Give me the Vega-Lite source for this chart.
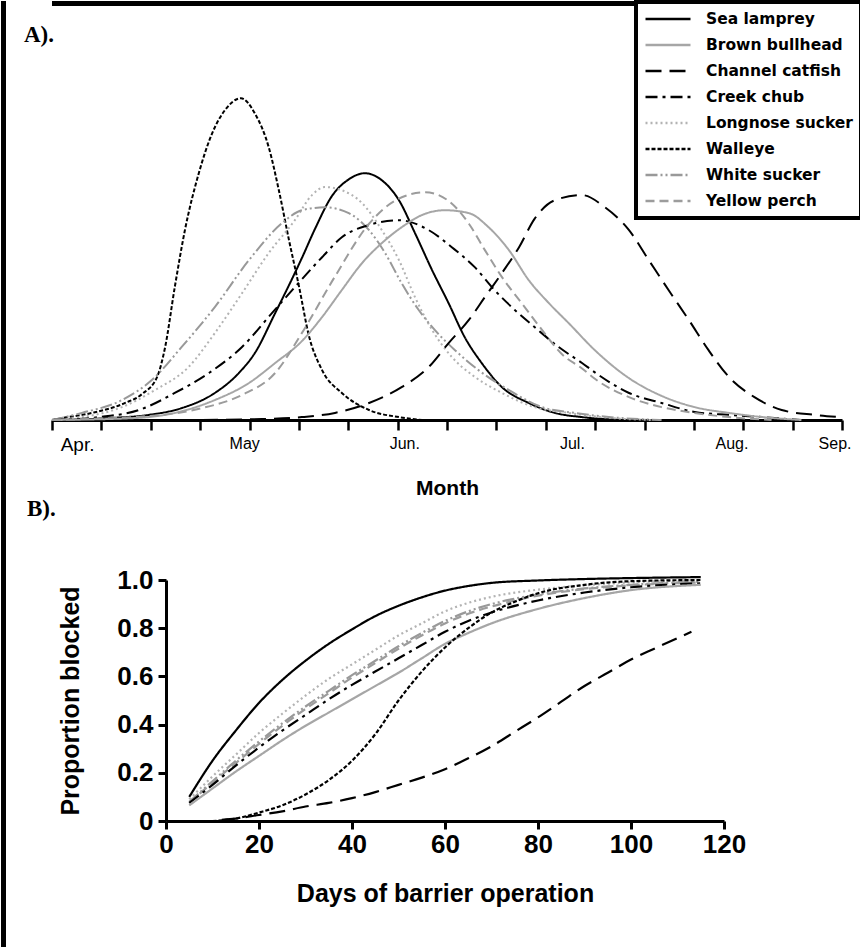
{
  "$schema": "https://vega.github.io/schema/vega-lite/v6.json",
  "background": "white",
  "padding": {"left": 0, "top": 0, "right": 0, "bottom": 0},
  "config": {"view": {"stroke": null}, "font": "Liberation Sans", "legend": {"strokeWidth": 4, "cornerRadius": 0}},
  "datasets": {
    "curvesA": [
      {"species":"Walleye","day":0,"density":0},{"species":"Walleye","day":1.9,"density":0.006},{"species":"Walleye","day":7.5,"density":0.022},{"species":"Walleye","day":13.7,"density":0.053},{"species":"Walleye","day":16.9,"density":0.081},{"species":"Walleye","day":19.7,"density":0.134},{"species":"Walleye","day":21.2,"density":0.227},{"species":"Walleye","day":23.0,"density":0.413},{"species":"Walleye","day":24.9,"density":0.59},{"species":"Walleye","day":27.5,"density":0.767},{"species":"Walleye","day":30.0,"density":0.891},{"species":"Walleye","day":32.4,"density":0.963},{"species":"Walleye","day":35.4,"density":1.0},{"species":"Walleye","day":38.0,"density":0.953},{"species":"Walleye","day":40.6,"density":0.848},{"species":"Walleye","day":42.5,"density":0.714},{"species":"Walleye","day":44.4,"density":0.559},{"species":"Walleye","day":46.3,"density":0.413},{"species":"Walleye","day":48.1,"density":0.264},{"species":"Walleye","day":50.6,"density":0.155},{"species":"Walleye","day":54.3,"density":0.084},{"species":"Walleye","day":59.4,"density":0.031},{"species":"Walleye","day":65.0,"density":0.009},{"species":"Walleye","day":69.3,"density":0},
      {"species":"Sea lamprey","day":0,"density":0},{"species":"Sea lamprey","day":10.7,"density":0.006},{"species":"Sea lamprey","day":18.2,"density":0.016},{"species":"Sea lamprey","day":24.3,"density":0.037},{"species":"Sea lamprey","day":30.5,"density":0.084},{"species":"Sea lamprey","day":35.0,"density":0.146},{"species":"Sea lamprey","day":38.0,"density":0.208},{"species":"Sea lamprey","day":41.8,"density":0.332},{"species":"Sea lamprey","day":45.5,"density":0.457},{"species":"Sea lamprey","day":46.8,"density":0.503},{"species":"Sea lamprey","day":49.3,"density":0.595},{"species":"Sea lamprey","day":52.4,"density":0.695},{"species":"Sea lamprey","day":55.6,"density":0.748},{"species":"Sea lamprey","day":58.6,"density":0.767},{"species":"Sea lamprey","day":61.8,"density":0.745},{"species":"Sea lamprey","day":65.0,"density":0.683},{"species":"Sea lamprey","day":68.0,"density":0.581},{"species":"Sea lamprey","day":71.2,"density":0.466},{"species":"Sea lamprey","day":74.3,"density":0.363},{"species":"Sea lamprey","day":77.3,"density":0.258},{"species":"Sea lamprey","day":80.5,"density":0.177},{"species":"Sea lamprey","day":84.3,"density":0.102},{"species":"Sea lamprey","day":89.3,"density":0.053},{"species":"Sea lamprey","day":94.2,"density":0.022},{"species":"Sea lamprey","day":99.3,"density":0.009},{"species":"Sea lamprey","day":106.7,"density":0},
      {"species":"Longnose sucker","day":0,"density":0},{"species":"Longnose sucker","day":5.6,"density":0.009},{"species":"Longnose sucker","day":13.1,"density":0.04},{"species":"Longnose sucker","day":19.3,"density":0.093},{"species":"Longnose sucker","day":25.6,"density":0.165},{"species":"Longnose sucker","day":30.5,"density":0.27},{"species":"Longnose sucker","day":35.6,"density":0.394},{"species":"Longnose sucker","day":40.6,"density":0.519},{"species":"Longnose sucker","day":45.5,"density":0.621},{"species":"Longnose sucker","day":48.7,"density":0.699},{"species":"Longnose sucker","day":51.1,"density":0.724},{"species":"Longnose sucker","day":54.3,"density":0.714},{"species":"Longnose sucker","day":58.1,"density":0.674},{"species":"Longnose sucker","day":61.8,"density":0.59},{"species":"Longnose sucker","day":65.0,"density":0.497},{"species":"Longnose sucker","day":68.0,"density":0.382},{"species":"Longnose sucker","day":71.2,"density":0.28},{"species":"Longnose sucker","day":74.9,"density":0.196},{"species":"Longnose sucker","day":79.2,"density":0.134},{"species":"Longnose sucker","day":84.3,"density":0.084},{"species":"Longnose sucker","day":90.4,"density":0.04},{"species":"Longnose sucker","day":96.8,"density":0.022},{"species":"Longnose sucker","day":104.9,"density":0.006},{"species":"Longnose sucker","day":112.4,"density":0},
      {"species":"White sucker","day":0,"density":0},{"species":"White sucker","day":5.6,"density":0.022},{"species":"White sucker","day":13.1,"density":0.062},{"species":"White sucker","day":18.7,"density":0.124},{"species":"White sucker","day":24.3,"density":0.227},{"species":"White sucker","day":30.5,"density":0.351},{"species":"White sucker","day":36.9,"density":0.497},{"species":"White sucker","day":43.1,"density":0.612},{"species":"White sucker","day":46.8,"density":0.652},{"species":"White sucker","day":51.1,"density":0.661},{"species":"White sucker","day":55.6,"density":0.643},{"species":"White sucker","day":59.4,"density":0.59},{"species":"White sucker","day":62.4,"density":0.519},{"species":"White sucker","day":65.5,"density":0.425},{"species":"White sucker","day":68.7,"density":0.342},{"species":"White sucker","day":71.7,"density":0.28},{"species":"White sucker","day":75.5,"density":0.217},{"species":"White sucker","day":79.9,"density":0.155},{"species":"White sucker","day":85.6,"density":0.093},{"species":"White sucker","day":91.8,"density":0.04},{"species":"White sucker","day":97.9,"density":0.022},{"species":"White sucker","day":106.7,"density":0.006},{"species":"White sucker","day":114.2,"density":0},
      {"species":"Creek chub","day":0,"density":0},{"species":"Creek chub","day":8.8,"density":0.009},{"species":"Creek chub","day":16.3,"density":0.031},{"species":"Creek chub","day":23.0,"density":0.084},{"species":"Creek chub","day":29.4,"density":0.146},{"species":"Creek chub","day":35.6,"density":0.227},{"species":"Creek chub","day":41.2,"density":0.332},{"species":"Creek chub","day":45.5,"density":0.413},{"species":"Creek chub","day":50.6,"density":0.506},{"species":"Creek chub","day":54.3,"density":0.568},{"species":"Creek chub","day":59.4,"density":0.606},{"species":"Creek chub","day":65.0,"density":0.621},{"species":"Creek chub","day":70.6,"density":0.59},{"species":"Creek chub","day":74.9,"density":0.537},{"species":"Creek chub","day":79.2,"density":0.475},{"species":"Creek chub","day":82.9,"density":0.404},{"species":"Creek chub","day":86.7,"density":0.342},{"species":"Creek chub","day":90.4,"density":0.289},{"species":"Creek chub","day":94.9,"density":0.227},{"species":"Creek chub","day":99.3,"density":0.177},{"species":"Creek chub","day":101.7,"density":0.148},{"species":"Creek chub","day":108.1,"density":0.084},{"species":"Creek chub","day":114.2,"density":0.053},{"species":"Creek chub","day":120.4,"density":0.025},{"species":"Creek chub","day":126.8,"density":0.016},{"species":"Creek chub","day":133.1,"density":0.009},{"species":"Creek chub","day":140.4,"density":0},
      {"species":"Brown bullhead","day":0,"density":0},{"species":"Brown bullhead","day":15.5,"density":0.006},{"species":"Brown bullhead","day":23.0,"density":0.022},{"species":"Brown bullhead","day":30.5,"density":0.062},{"species":"Brown bullhead","day":36.9,"density":0.115},{"species":"Brown bullhead","day":41.8,"density":0.177},{"species":"Brown bullhead","day":46.8,"density":0.245},{"species":"Brown bullhead","day":50.6,"density":0.32},{"species":"Brown bullhead","day":54.3,"density":0.404},{"species":"Brown bullhead","day":58.1,"density":0.488},{"species":"Brown bullhead","day":61.8,"density":0.55},{"species":"Brown bullhead","day":65.5,"density":0.599},{"species":"Brown bullhead","day":69.3,"density":0.637},{"species":"Brown bullhead","day":73.6,"density":0.652},{"species":"Brown bullhead","day":78.1,"density":0.643},{"species":"Brown bullhead","day":81.8,"density":0.599},{"species":"Brown bullhead","day":85.6,"density":0.528},{"species":"Brown bullhead","day":89.3,"density":0.435},{"species":"Brown bullhead","day":93.1,"density":0.363},{"species":"Brown bullhead","day":96.8,"density":0.301},{"species":"Brown bullhead","day":101.7,"density":0.217},{"species":"Brown bullhead","day":108.1,"density":0.13},{"species":"Brown bullhead","day":114.2,"density":0.075},{"species":"Brown bullhead","day":120.4,"density":0.04},{"species":"Brown bullhead","day":126.8,"density":0.022},{"species":"Brown bullhead","day":133.1,"density":0.009},{"species":"Brown bullhead","day":140.4,"density":0},
      {"species":"Yellow perch","day":0,"density":0},{"species":"Yellow perch","day":20.6,"density":0.016},{"species":"Yellow perch","day":28.1,"density":0.037},{"species":"Yellow perch","day":35.6,"density":0.078},{"species":"Yellow perch","day":41.8,"density":0.146},{"species":"Yellow perch","day":46.8,"density":0.27},{"species":"Yellow perch","day":52.9,"density":0.443},{"species":"Yellow perch","day":59.4,"density":0.61},{"species":"Yellow perch","day":64.2,"density":0.681},{"species":"Yellow perch","day":69.9,"density":0.708},{"species":"Yellow perch","day":74.3,"density":0.681},{"species":"Yellow perch","day":78.1,"density":0.61},{"species":"Yellow perch","day":81.1,"density":0.528},{"species":"Yellow perch","day":84.3,"density":0.444},{"species":"Yellow perch","day":88.0,"density":0.363},{"species":"Yellow perch","day":91.8,"density":0.28},{"species":"Yellow perch","day":95.5,"density":0.205},{"species":"Yellow perch","day":99.3,"density":0.16},{"species":"Yellow perch","day":101.7,"density":0.128},{"species":"Yellow perch","day":108.1,"density":0.071},{"species":"Yellow perch","day":114.2,"density":0.04},{"species":"Yellow perch","day":120.4,"density":0.022},{"species":"Yellow perch","day":126.8,"density":0.009},{"species":"Yellow perch","day":134.8,"density":0},
      {"species":"Channel catfish","day":28.1,"density":0},{"species":"Channel catfish","day":39.3,"density":0.003},{"species":"Channel catfish","day":46.8,"density":0.009},{"species":"Channel catfish","day":53.0,"density":0.022},{"species":"Channel catfish","day":59.4,"density":0.053},{"species":"Channel catfish","day":65.5,"density":0.102},{"species":"Channel catfish","day":70.6,"density":0.165},{"species":"Channel catfish","day":74.3,"density":0.239},{"species":"Channel catfish","day":78.1,"density":0.311},{"species":"Channel catfish","day":81.1,"density":0.382},{"species":"Channel catfish","day":84.3,"density":0.457},{"species":"Channel catfish","day":87.5,"density":0.537},{"species":"Channel catfish","day":90.4,"density":0.625},{"species":"Channel catfish","day":94.2,"density":0.683},{"species":"Channel catfish","day":99.3,"density":0.699},{"species":"Channel catfish","day":103.6,"density":0.661},{"species":"Channel catfish","day":108.1,"density":0.59},{"species":"Channel catfish","day":111.8,"density":0.497},{"species":"Channel catfish","day":115.5,"density":0.404},{"species":"Channel catfish","day":119.3,"density":0.311},{"species":"Channel catfish","day":123.0,"density":0.217},{"species":"Channel catfish","day":126.8,"density":0.134},{"species":"Channel catfish","day":131.6,"density":0.071},{"species":"Channel catfish","day":136.7,"density":0.031},{"species":"Channel catfish","day":142.9,"density":0.016},{"species":"Channel catfish","day":147.4,"density":0.009}
    ],
    "months": [
      {"month":"Apr.","day":4.7},{"month":"May","day":36},{"month":"Jun.","day":66},{"month":"Jul.","day":97.4},{"month":"Aug.","day":127.3},{"month":"Sep.","day":146.6}
    ],
    "curvesB": [
      {"species":"Sea lamprey","days":5,"prop":0.1},{"species":"Sea lamprey","days":10,"prop":0.25},{"species":"Sea lamprey","days":15,"prop":0.375},{"species":"Sea lamprey","days":20,"prop":0.49},{"species":"Sea lamprey","days":25,"prop":0.585},{"species":"Sea lamprey","days":30,"prop":0.665},{"species":"Sea lamprey","days":35,"prop":0.735},{"species":"Sea lamprey","days":40,"prop":0.795},{"species":"Sea lamprey","days":45,"prop":0.85},{"species":"Sea lamprey","days":50,"prop":0.893},{"species":"Sea lamprey","days":55,"prop":0.928},{"species":"Sea lamprey","days":60,"prop":0.956},{"species":"Sea lamprey","days":65,"prop":0.975},{"species":"Sea lamprey","days":70,"prop":0.988},{"species":"Sea lamprey","days":80,"prop":0.998},{"species":"Sea lamprey","days":90,"prop":1.004},{"species":"Sea lamprey","days":100,"prop":1.008},{"species":"Sea lamprey","days":115,"prop":1.012},
      {"species":"Longnose sucker","days":5,"prop":0.09},{"species":"Longnose sucker","days":10,"prop":0.185},{"species":"Longnose sucker","days":15,"prop":0.275},{"species":"Longnose sucker","days":20,"prop":0.365},{"species":"Longnose sucker","days":25,"prop":0.445},{"species":"Longnose sucker","days":30,"prop":0.52},{"species":"Longnose sucker","days":35,"prop":0.59},{"species":"Longnose sucker","days":40,"prop":0.65},{"species":"Longnose sucker","days":45,"prop":0.71},{"species":"Longnose sucker","days":50,"prop":0.77},{"species":"Longnose sucker","days":55,"prop":0.82},{"species":"Longnose sucker","days":60,"prop":0.87},{"species":"Longnose sucker","days":65,"prop":0.905},{"species":"Longnose sucker","days":70,"prop":0.93},{"species":"Longnose sucker","days":80,"prop":0.96},{"species":"Longnose sucker","days":90,"prop":0.978},{"species":"Longnose sucker","days":100,"prop":0.99},{"species":"Longnose sucker","days":115,"prop":1.0},
      {"species":"White sucker","days":5,"prop":0.08},{"species":"White sucker","days":10,"prop":0.165},{"species":"White sucker","days":15,"prop":0.25},{"species":"White sucker","days":20,"prop":0.33},{"species":"White sucker","days":25,"prop":0.405},{"species":"White sucker","days":30,"prop":0.475},{"species":"White sucker","days":35,"prop":0.54},{"species":"White sucker","days":40,"prop":0.605},{"species":"White sucker","days":45,"prop":0.665},{"species":"White sucker","days":50,"prop":0.725},{"species":"White sucker","days":55,"prop":0.78},{"species":"White sucker","days":60,"prop":0.83},{"species":"White sucker","days":65,"prop":0.87},{"species":"White sucker","days":70,"prop":0.9},{"species":"White sucker","days":80,"prop":0.94},{"species":"White sucker","days":90,"prop":0.965},{"species":"White sucker","days":100,"prop":0.98},{"species":"White sucker","days":115,"prop":0.993},
      {"species":"Yellow perch","days":5,"prop":0.075},{"species":"Yellow perch","days":10,"prop":0.16},{"species":"Yellow perch","days":15,"prop":0.24},{"species":"Yellow perch","days":20,"prop":0.32},{"species":"Yellow perch","days":25,"prop":0.395},{"species":"Yellow perch","days":30,"prop":0.465},{"species":"Yellow perch","days":35,"prop":0.53},{"species":"Yellow perch","days":40,"prop":0.595},{"species":"Yellow perch","days":45,"prop":0.655},{"species":"Yellow perch","days":50,"prop":0.715},{"species":"Yellow perch","days":55,"prop":0.77},{"species":"Yellow perch","days":60,"prop":0.82},{"species":"Yellow perch","days":65,"prop":0.86},{"species":"Yellow perch","days":70,"prop":0.89},{"species":"Yellow perch","days":80,"prop":0.935},{"species":"Yellow perch","days":90,"prop":0.962},{"species":"Yellow perch","days":100,"prop":0.978},{"species":"Yellow perch","days":115,"prop":0.99},
      {"species":"Creek chub","days":5,"prop":0.075},{"species":"Creek chub","days":10,"prop":0.15},{"species":"Creek chub","days":15,"prop":0.23},{"species":"Creek chub","days":20,"prop":0.305},{"species":"Creek chub","days":25,"prop":0.375},{"species":"Creek chub","days":30,"prop":0.44},{"species":"Creek chub","days":35,"prop":0.505},{"species":"Creek chub","days":40,"prop":0.565},{"species":"Creek chub","days":45,"prop":0.62},{"species":"Creek chub","days":50,"prop":0.675},{"species":"Creek chub","days":55,"prop":0.73},{"species":"Creek chub","days":60,"prop":0.785},{"species":"Creek chub","days":65,"prop":0.83},{"species":"Creek chub","days":70,"prop":0.865},{"species":"Creek chub","days":80,"prop":0.915},{"species":"Creek chub","days":90,"prop":0.948},{"species":"Creek chub","days":100,"prop":0.97},{"species":"Creek chub","days":115,"prop":0.986},
      {"species":"Brown bullhead","days":5,"prop":0.065},{"species":"Brown bullhead","days":10,"prop":0.135},{"species":"Brown bullhead","days":15,"prop":0.205},{"species":"Brown bullhead","days":20,"prop":0.27},{"species":"Brown bullhead","days":25,"prop":0.335},{"species":"Brown bullhead","days":30,"prop":0.395},{"species":"Brown bullhead","days":35,"prop":0.45},{"species":"Brown bullhead","days":40,"prop":0.505},{"species":"Brown bullhead","days":45,"prop":0.56},{"species":"Brown bullhead","days":50,"prop":0.615},{"species":"Brown bullhead","days":55,"prop":0.675},{"species":"Brown bullhead","days":60,"prop":0.735},{"species":"Brown bullhead","days":65,"prop":0.78},{"species":"Brown bullhead","days":70,"prop":0.82},{"species":"Brown bullhead","days":80,"prop":0.88},{"species":"Brown bullhead","days":90,"prop":0.925},{"species":"Brown bullhead","days":100,"prop":0.958},{"species":"Brown bullhead","days":115,"prop":0.98},
      {"species":"Walleye","days":10,"prop":0},{"species":"Walleye","days":15,"prop":0.01},{"species":"Walleye","days":20,"prop":0.035},{"species":"Walleye","days":25,"prop":0.065},{"species":"Walleye","days":30,"prop":0.11},{"species":"Walleye","days":35,"prop":0.17},{"species":"Walleye","days":40,"prop":0.25},{"species":"Walleye","days":45,"prop":0.36},{"species":"Walleye","days":50,"prop":0.5},{"species":"Walleye","days":55,"prop":0.62},{"species":"Walleye","days":60,"prop":0.72},{"species":"Walleye","days":65,"prop":0.8},{"species":"Walleye","days":70,"prop":0.865},{"species":"Walleye","days":75,"prop":0.91},{"species":"Walleye","days":80,"prop":0.945},{"species":"Walleye","days":90,"prop":0.98},{"species":"Walleye","days":100,"prop":0.995},{"species":"Walleye","days":115,"prop":1.0},
      {"species":"Channel catfish","days":12,"prop":0.005},{"species":"Channel catfish","days":15,"prop":0.01},{"species":"Channel catfish","days":20,"prop":0.025},{"species":"Channel catfish","days":25,"prop":0.04},{"species":"Channel catfish","days":30,"prop":0.06},{"species":"Channel catfish","days":35,"prop":0.075},{"species":"Channel catfish","days":40,"prop":0.095},{"species":"Channel catfish","days":45,"prop":0.12},{"species":"Channel catfish","days":50,"prop":0.15},{"species":"Channel catfish","days":55,"prop":0.18},{"species":"Channel catfish","days":60,"prop":0.215},{"species":"Channel catfish","days":65,"prop":0.26},{"species":"Channel catfish","days":70,"prop":0.31},{"species":"Channel catfish","days":75,"prop":0.37},{"species":"Channel catfish","days":80,"prop":0.43},{"species":"Channel catfish","days":85,"prop":0.495},{"species":"Channel catfish","days":90,"prop":0.56},{"species":"Channel catfish","days":95,"prop":0.615},{"species":"Channel catfish","days":100,"prop":0.67},{"species":"Channel catfish","days":105,"prop":0.715},{"species":"Channel catfish","days":113,"prop":0.785}
    ]
  },
  "hconcat": [
    {
      "width": 5,
      "height": 947,
      "view": {"fill": "black", "stroke": null},
      "data": {"values": [{"k": 0}]},
      "mark": {"type": "point", "opacity": 0}
    },
    {
      "vconcat": [
        {
          "vconcat": [
            {
              "width": 810,
              "height": 5,
              "view": {"fill": "black", "stroke": null},
              "data": {"values": [{"k": 0}]},
              "mark": {"type": "point", "opacity": 0}
            },
            {
              "width": 790,
              "height": 370,
              "title": {"text": "A).", "anchor": "start", "frame": "group", "dx": -28, "offset": -65, "baseline": "alphabetic", "font": "Liberation Serif", "fontSize": 23, "fontWeight": "bold", "color": "black"},
              "layer": [
                {
                  "data": {"name": "curvesA"},
                  "mark": {"type": "line", "strokeWidth": 2, "interpolate": "monotone"},
                  "encoding": {
                    "x": {"field": "day", "type": "quantitative", "scale": {"domain": [0, 148], "nice": false, "zero": false},
                      "axis": {"orient": "bottom", "values": [0, 9.25, 18.5, 27.75, 37, 46.25, 55.5, 64.75, 74, 83.25, 92.5, 101.75, 111, 120.25, 129.5, 138.75, 148], "labels": false, "title": null, "grid": false, "tickSize": 10, "tickWidth": 2.5, "tickColor": "black", "domainColor": "black", "domainWidth": 3}},
                    "y": {"field": "density", "type": "quantitative", "scale": {"domain": [0, 1.15], "nice": false}, "axis": null},
                    "color": {"field": "species", "type": "nominal",
                      "scale": {"domain": ["Sea lamprey", "Brown bullhead", "Channel catfish", "Creek chub", "Longnose sucker", "Walleye", "White sucker", "Yellow perch"], "range": ["#000000", "#a6a6a6", "#000000", "#000000", "#b3b3b3", "#000000", "#999999", "#9c9c9c"]},
                      "legend": {"orient": "none", "legendX": 584, "legendY": -48, "title": null, "symbolType": "M-1,0H5", "symbolSize": 225, "symbolStrokeWidth": 2.5, "labelFont": "DejaVu Sans", "labelFontSize": 15.5, "labelFontWeight": "bold", "labelColor": "black", "labelOffset": 44, "padding": 8, "rowPadding": 8, "strokeColor": "black", "fillColor": "white", "labelLimit": 400}},
                    "strokeDash": {"field": "species", "type": "nominal",
                      "scale": {"domain": ["Sea lamprey", "Brown bullhead", "Channel catfish", "Creek chub", "Longnose sucker", "Walleye", "White sucker", "Yellow perch"], "range": [[1, 0], [1, 0], [16, 8], [12, 5, 3, 5], [2, 3], [4, 2], [12, 3, 2, 3, 2, 3], [9, 5]]},
                      "legend": {"orient": "none", "legendX": 584, "legendY": -48, "title": null, "symbolType": "M-1,0H5", "symbolSize": 225, "symbolStrokeWidth": 2.5, "labelFont": "DejaVu Sans", "labelFontSize": 15.5, "labelFontWeight": "bold", "labelColor": "black", "labelOffset": 44, "padding": 8, "rowPadding": 8, "strokeColor": "black", "fillColor": "white", "labelLimit": 400}}
                  }
                },
                {
                  "data": {"name": "months"},
                  "mark": {"type": "point", "opacity": 0},
                  "encoding": {
                    "x": {"field": "day", "type": "quantitative", "scale": {"domain": [0, 148], "nice": false, "zero": false},
                      "axis": {"orient": "bottom", "values": [4.7, 36, 66, 97.4, 127.3, 146.6], "labelExpr": "datum.value < 20 ? 'Apr.' : datum.value < 50 ? 'May' : datum.value < 80 ? 'Jun.' : datum.value < 110 ? 'Jul.' : datum.value < 140 ? 'Aug.' : 'Sep.'", "domain": false, "ticks": false, "grid": false, "labelPadding": 15, "labelFlush": false, "labelOverlap": false, "labelBound": false, "labelColor": "black", "labelFont": "Liberation Sans", "labelFontSize": {"condition": {"test": "datum.value < 20", "value": 19}, "value": 16}, "title": "Month", "titleFont": "Liberation Sans", "titleFontSize": 21, "titleFontWeight": "bold", "titleColor": "black", "titlePadding": 23}},
                    "y": {"datum": 0, "type": "quantitative"}
                  }
                }
              ],
              "resolve": {"axis": {"x": "independent"}}
            }
          ],
          "spacing": -7,
          "resolve": {"legend": {"color": "independent", "strokeDash": "independent"}}
        },
        {
          "hconcat": [
            {
              "width": 5,
              "height": 241,
              "title": {"text": "B).", "anchor": "start", "frame": "group", "dx": -25, "offset": 41, "baseline": "alphabetic", "font": "Liberation Serif", "fontSize": 23, "fontWeight": "bold", "color": "black"},
              "data": {"values": [{"k": 0}]},
              "mark": {"type": "point", "opacity": 0}
            },
            {
              "width": 558,
              "height": 241,
              "data": {"name": "curvesB"},
              "mark": {"type": "line", "strokeWidth": 2.2, "interpolate": "monotone"},
              "encoding": {
                "x": {"field": "days", "type": "quantitative", "scale": {"domain": [0, 120], "nice": false},
                  "axis": {"values": [0, 20, 40, 60, 80, 100, 120], "grid": false, "tickSize": 8, "tickWidth": 3, "tickColor": "black", "domainColor": "black", "domainWidth": 3, "labelPadding": 2, "labelFont": "Liberation Sans", "labelFontSize": 26, "labelFontWeight": "bold", "labelColor": "black", "labelFlush": false, "title": "Days of barrier operation", "titleFont": "Liberation Sans", "titleFontSize": 25, "titleFontWeight": "bold", "titleColor": "black", "titlePadding": 24}},
                "y": {"field": "prop", "type": "quantitative", "scale": {"domain": [0, 1], "nice": false},
                  "axis": {"values": [0, 0.2, 0.4, 0.6, 0.8, 1.0], "labelExpr": "datum.value == 0 ? '0' : format(datum.value, '.1f')", "grid": false, "tickSize": 8, "tickWidth": 3, "tickColor": "black", "domainColor": "black", "domainWidth": 3, "labelPadding": 5, "labelFont": "Liberation Sans", "labelFontSize": 26, "labelFontWeight": "bold", "labelColor": "black", "title": "Proportion blocked", "titleFont": "Liberation Sans", "titleFontSize": 25, "titleFontWeight": "bold", "titleColor": "black", "titlePadding": 33}},
                "color": {"field": "species", "type": "nominal",
                  "scale": {"domain": ["Sea lamprey", "Brown bullhead", "Channel catfish", "Creek chub", "Longnose sucker", "Walleye", "White sucker", "Yellow perch"], "range": ["#000000", "#a6a6a6", "#000000", "#000000", "#b3b3b3", "#000000", "#999999", "#9c9c9c"]}, "legend": null},
                "strokeDash": {"field": "species", "type": "nominal",
                  "scale": {"domain": ["Sea lamprey", "Brown bullhead", "Channel catfish", "Creek chub", "Longnose sucker", "Walleye", "White sucker", "Yellow perch"], "range": [[1, 0], [1, 0], [16, 8], [12, 5, 3, 5], [2, 3], [4, 2], [12, 3, 2, 3, 2, 3], [9, 5]]}, "legend": null}
              }
            }
          ],
          "spacing": 0
        }
      ],
      "spacing": 0,
      "resolve": {"legend": {"color": "independent", "strokeDash": "independent"}}
    }
  ],
  "spacing": 17,
  "resolve": {"legend": {"color": "independent", "strokeDash": "independent"}}
}
